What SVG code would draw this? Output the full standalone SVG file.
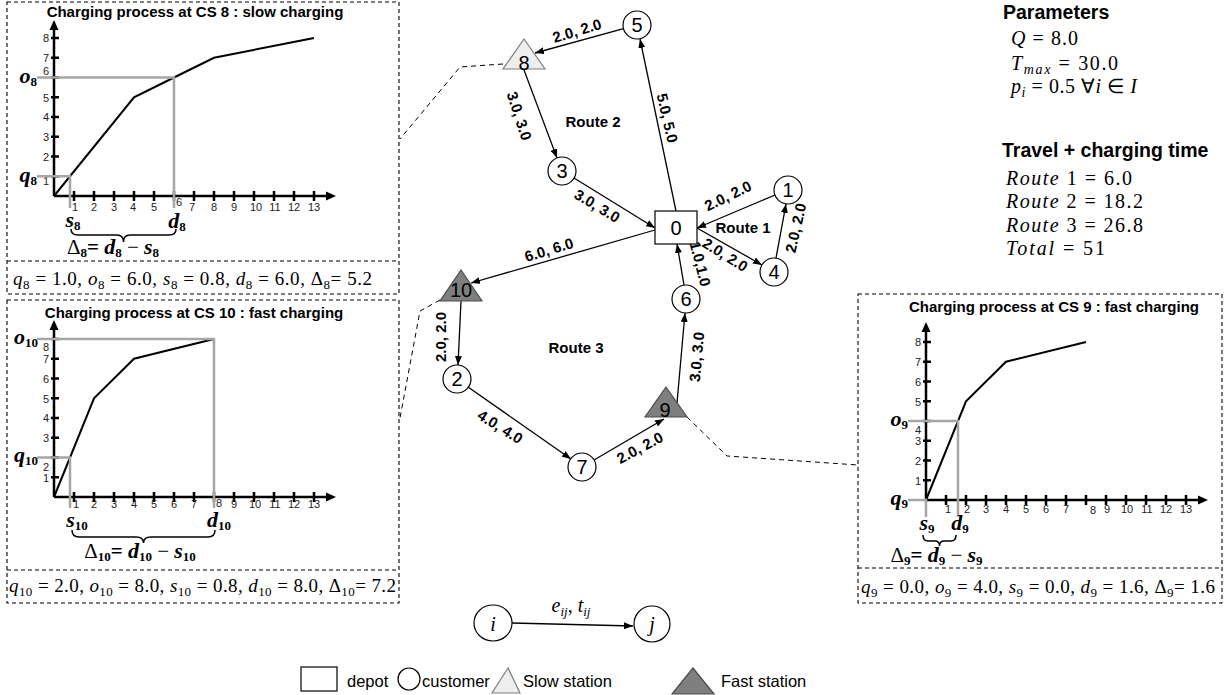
<svg xmlns="http://www.w3.org/2000/svg" width="1230" height="695" viewBox="0 0 1230 695">
<defs>
<marker id="arr" markerWidth="9" markerHeight="7" refX="9" refY="3.5" orient="auto" markerUnits="userSpaceOnUse"><path d="M0,0 L9,3.5 L0,7 z" fill="#000"/></marker>
</defs>
<style>
.bx{fill:none;stroke:#000;stroke-width:1.1;stroke-dasharray:4,3}
.dl{fill:none;stroke:#000;stroke-width:1;stroke-dasharray:5,4}
.ax{fill:none;stroke:#000;stroke-width:2.5}
.ah{fill:#000}
.gr{fill:none;stroke:#a6a6a6;stroke-width:2.5}
.cv{fill:none;stroke:#000;stroke-width:2}
.br{fill:none;stroke:#000;stroke-width:1.5}
.tl{font-family:"Liberation Sans",Arial,sans-serif;font-size:11px;fill:#222;text-anchor:middle}
.yl{font-family:"Liberation Sans",Arial,sans-serif;font-size:11px;fill:#222;text-anchor:end}
.tt{font-family:"Liberation Sans",Arial,sans-serif;font-size:15px;font-weight:bold;text-anchor:middle}
.mb{font-family:"Liberation Serif","Times New Roman",serif;font-size:22px;font-weight:bold;font-style:italic}
.m{font-family:"Liberation Serif","Times New Roman",serif;font-size:19px}
.mp{font-family:"Liberation Serif","Times New Roman",serif;font-size:20px}
.dm{font-family:"Liberation Serif","Times New Roman",serif;font-size:21px}
.i{font-style:italic}
.u{font-style:normal}
.s{font-size:13px}
.s2{font-size:14px}
.n circle,.n rect{fill:#fff;stroke:#000;stroke-width:1.2}
.nl{font-family:"Liberation Sans",Arial,sans-serif;font-size:20px;text-anchor:middle}
.el{font-family:"Liberation Sans",Arial,sans-serif;font-size:15px;font-weight:bold;text-anchor:middle}
.rt{font-family:"Liberation Sans",Arial,sans-serif;font-size:15px;font-weight:bold;text-anchor:middle}
.e{stroke:#000;stroke-width:1.3;fill:none;marker-end:url(#arr)}
.slow{fill:#eeeeee;stroke:#7f7f7f;stroke-width:1.2}
.fast{fill:#7f7f7f;stroke:#4d4d4d;stroke-width:1.2}
.lg{font-family:"Liberation Sans",Arial,sans-serif;font-size:16.5px}
.hd{font-family:"Liberation Sans",Arial,sans-serif;font-size:19.5px;font-weight:bold}
</style>

<!-- Chart CS 8 -->
<g id="chart-cs8">
<rect class="bx" x="7" y="2" width="392" height="292"/>
<line class="bx" x1="7" y1="261" x2="399" y2="261"/>
<text class="tt" x="195" y="17">Charging process at CS 8 : slow charging</text>
<g transform="translate(54,196)">
<path class="ax" d="M0,0 V-168 M0,0 H274"/>
<polygon class="ah" points="0,-176 -4.5,-166 4.5,-166"/>
<polygon class="ah" points="282,0 272,-4.5 272,4.5"/>
<path class="ax" d="M20,-5V5M40,-5V5M60,-5V5M80,-5V5M100,-5V5M120,-5V5M140,-5V5M160,-5V5M180,-5V5M200,-5V5M220,-5V5M240,-5V5M260,-5V5"/>
<path class="ax" d="M-3,-19.75H5M-3,-39.5H5M-3,-59.25H5M-3,-79H5M-3,-98.75H5M-3,-118.5H5M-3,-138.25H5M-3,-158H5"/>
<text class="tl" x="21" y="15">1</text><text class="tl" x="40" y="15">2</text><text class="tl" x="60" y="15">3</text><text class="tl" x="79" y="15">4</text><text class="tl" x="100" y="15">5</text><text class="tl" x="125" y="10">6</text><text class="tl" x="138" y="15">7</text><text class="tl" x="160" y="15">8</text><text class="tl" x="180" y="15">9</text><text class="tl" x="202" y="15">10</text><text class="tl" x="221" y="15">11</text><text class="tl" x="240" y="15">12</text><text class="tl" x="260" y="15">13</text>
<text class="yl" x="-5" y="-11">1</text><text class="yl" x="-5" y="-35.5">2</text><text class="yl" x="-5" y="-55">3</text><text class="yl" x="-5" y="-75">4</text><text class="yl" x="-5" y="-94.5">5</text><text class="yl" x="-5" y="-121">6</text><text class="yl" x="-5" y="-134">7</text><text class="yl" x="-5" y="-154">8</text>
<path class="cv" d="M0,0 L80,-98.75 L120,-118.5 L160,-138.25 L260,-158"/>
<path class="gr" d="M-17,-118.5 H120 V12 M-17,-19.75 H16 V12"/>
<text class="mb" x="-17" y="-113" text-anchor="end">o<tspan class="u s" dy="3">8</tspan></text>
<text class="mb" x="-17" y="-14" text-anchor="end">q<tspan class="u s" dy="3">8</tspan></text>
<text class="mb" x="19" y="31" text-anchor="middle">s<tspan class="u s" dy="3">8</tspan></text>
<text class="mb" x="123" y="32" text-anchor="middle">d<tspan class="u s" dy="3">8</tspan></text>
<path class="br" d="M17,33 Q17,39 24,39 H63 Q69.5,39 69.5,46 Q69.5,39 76,39 H115 Q122,39 122,33"/>
<text class="dm" x="59" y="58" text-anchor="middle">Δ<tspan class="s" font-weight="bold" dy="3">8</tspan><tspan font-weight="bold" dy="-3">= </tspan><tspan class="mb">d</tspan><tspan class="s" font-weight="bold" dy="3">8</tspan><tspan dy="-3"> − </tspan><tspan class="mb">s</tspan><tspan class="s" font-weight="bold" dy="3">8</tspan></text>
</g>
<text class="m" x="13" y="285" textLength="359" lengthAdjust="spacing"><tspan class="i">q</tspan><tspan class="s" dy="4">8</tspan><tspan dy="-4"> = 1.0, </tspan><tspan class="i">o</tspan><tspan class="s" dy="4">8</tspan><tspan dy="-4"> = 6.0, </tspan><tspan class="i">s</tspan><tspan class="s" dy="4">8</tspan><tspan dy="-4"> = 0.8, </tspan><tspan class="i">d</tspan><tspan class="s" dy="4">8</tspan><tspan dy="-4"> = 6.0, Δ</tspan><tspan class="s" dy="4">8</tspan><tspan dy="-4">= 5.2</tspan></text>
</g>

<!-- Chart CS 10 -->
<g id="chart-cs10">
<rect class="bx" x="7" y="300" width="392" height="303"/>
<line class="bx" x1="7" y1="570" x2="399" y2="570"/>
<text class="tt" x="194" y="318">Charging process at CS 10 : fast charging</text>
<g transform="translate(54,497)">
<path class="ax" d="M0,0 V-168 M0,0 H274"/>
<polygon class="ah" points="0,-177 -4.5,-167 4.5,-167"/>
<polygon class="ah" points="282,0 272,-4.5 272,4.5"/>
<path class="ax" d="M20,-5V5M40,-5V5M60,-5V5M80,-5V5M100,-5V5M120,-5V5M140,-5V5M160,-5V5M180,-5V5M200,-5V5M220,-5V5M240,-5V5M260,-5V5"/>
<path class="ax" d="M-3,-19.75H5M-3,-39.5H5M-3,-59.25H5M-3,-79H5M-3,-98.75H5M-3,-118.5H5M-3,-138.25H5M-3,-158H5"/>
<text class="tl" x="22" y="11">1</text><text class="tl" x="40" y="11">2</text><text class="tl" x="60" y="11">3</text><text class="tl" x="80" y="11">4</text><text class="tl" x="100" y="11">5</text><text class="tl" x="120" y="11">6</text><text class="tl" x="140" y="11">7</text><text class="tl" x="165" y="10">8</text><text class="tl" x="180" y="11">9</text><text class="tl" x="201" y="11">10</text><text class="tl" x="221" y="11">11</text><text class="tl" x="240" y="11">12</text><text class="tl" x="260" y="11">13</text>
<text class="yl" x="-5" y="-15.5">1</text><text class="yl" x="-5" y="-26">2</text><text class="yl" x="-5" y="-55">3</text><text class="yl" x="-5" y="-75">4</text><text class="yl" x="-5" y="-94.5">5</text><text class="yl" x="-5" y="-114.5">6</text><text class="yl" x="-5" y="-134">7</text><text class="yl" x="-5" y="-146">8</text>
<path class="cv" d="M0,0 L40,-98.75 L80,-138.25 L160,-158"/>
<path class="gr" d="M-17,-158 H160 V11 M-17,-39.5 H16 V11"/>
<text class="mb" x="-16" y="-153" text-anchor="end">o<tspan class="u s" dy="3">10</tspan></text>
<text class="mb" x="-16" y="-35" text-anchor="end">q<tspan class="u s" dy="3">10</tspan></text>
<text class="mb" x="23" y="30" text-anchor="middle">s<tspan class="u s" dy="3">10</tspan></text>
<text class="mb" x="165" y="30" text-anchor="middle">d<tspan class="u s" dy="3">10</tspan></text>
<path class="br" d="M18,33 Q18,40 25,40 H82 Q89.5,40 89.5,46 Q89.5,40 97,40 H154 Q161,40 161,33"/>
<text class="dm" x="86" y="61" text-anchor="middle">Δ<tspan class="s" font-weight="bold" dy="3">10</tspan><tspan font-weight="bold" dy="-3">= </tspan><tspan class="mb">d</tspan><tspan class="s" font-weight="bold" dy="3">10</tspan><tspan dy="-3"> − </tspan><tspan class="mb">s</tspan><tspan class="s" font-weight="bold" dy="3">10</tspan></text>
</g>
<text class="m" x="9" y="592" textLength="387" lengthAdjust="spacing"><tspan class="i">q</tspan><tspan class="s" dy="4">10</tspan><tspan dy="-4"> = 2.0, </tspan><tspan class="i">o</tspan><tspan class="s" dy="4">10</tspan><tspan dy="-4"> = 8.0, </tspan><tspan class="i">s</tspan><tspan class="s" dy="4">10</tspan><tspan dy="-4"> = 0.8, </tspan><tspan class="i">d</tspan><tspan class="s" dy="4">10</tspan><tspan dy="-4"> = 8.0, Δ</tspan><tspan class="s" dy="4">10</tspan><tspan dy="-4">= 7.2</tspan></text>
</g>

<!-- Chart CS 9 -->
<g id="chart-cs9">
<rect class="bx" x="858" y="294" width="364" height="309"/>
<line class="bx" x1="858" y1="568" x2="1222" y2="568"/>
<text class="tt" x="1054" y="312">Charging process at CS 9 : fast charging</text>
<g transform="translate(926,500)">
<path class="ax" d="M0,0 V-170 M0,0 H274"/>
<polygon class="ah" points="0,-178 -4.5,-168 4.5,-168"/>
<polygon class="ah" points="282,0 272,-4.5 272,4.5"/>
<path class="ax" d="M20,-5V5M40,-5V5M60,-5V5M80,-5V5M100,-5V5M120,-5V5M140,-5V5M160,-5V5M180,-5V5M200,-5V5M220,-5V5M240,-5V5M260,-5V5"/>
<path class="ax" d="M-3,-19.75H5M-3,-39.5H5M-3,-59.25H5M-3,-79H5M-3,-98.75H5M-3,-118.5H5M-3,-138.25H5M-3,-158H5"/>
<text class="tl" x="22" y="13">1</text><text class="tl" x="41" y="13">2</text><text class="tl" x="60" y="13">3</text><text class="tl" x="80" y="13">4</text><text class="tl" x="100" y="13">5</text><text class="tl" x="120" y="13">6</text><text class="tl" x="140" y="13">7</text><text class="tl" x="167" y="14">8</text><text class="tl" x="181" y="13">9</text><text class="tl" x="201" y="13">10</text><text class="tl" x="221" y="13">11</text><text class="tl" x="240" y="13">12</text><text class="tl" x="260" y="13">13</text>
<text class="yl" x="-5" y="-15.5">1</text><text class="yl" x="-5" y="-35.5">2</text><text class="yl" x="-5" y="-55">3</text><text class="yl" x="-5" y="-66">4</text><text class="yl" x="-5" y="-94.5">5</text><text class="yl" x="-5" y="-114.5">6</text><text class="yl" x="-5" y="-134">7</text><text class="yl" x="-5" y="-154">8</text>
<path class="cv" d="M0,0 L40,-98.75 L80,-138.25 L160,-158"/>
<path class="gr" d="M-18,-79 H32 V17 M-18,0 H0 V17"/>
<text class="mb" x="-18" y="-74" text-anchor="end">o<tspan class="u s" dy="3">9</tspan></text>
<text class="mb" x="-18" y="5" text-anchor="end">q<tspan class="u s" dy="3">9</tspan></text>
<text class="mb" x="1" y="30" text-anchor="middle">s<tspan class="u s" dy="3">9</tspan></text>
<text class="mb" x="34" y="30" text-anchor="middle">d<tspan class="u s" dy="3">9</tspan></text>
<path class="br" d="M-3,35 Q-3,41 2,41 H9 Q13.5,41 13.5,46 Q13.5,41 18,41 H25 Q30,41 30,35"/>
<text class="dm" x="10.5" y="62" text-anchor="middle">Δ<tspan class="s" font-weight="bold" dy="3">9</tspan><tspan font-weight="bold" dy="-3">= </tspan><tspan class="mb">d</tspan><tspan class="s" font-weight="bold" dy="3">9</tspan><tspan dy="-3"> − </tspan><tspan class="mb">s</tspan><tspan class="s" font-weight="bold" dy="3">9</tspan></text>
</g>
<text class="m" x="861" y="593" textLength="354" lengthAdjust="spacing"><tspan class="i">q</tspan><tspan class="s" dy="4">9</tspan><tspan dy="-4"> = 0.0, </tspan><tspan class="i">o</tspan><tspan class="s" dy="4">9</tspan><tspan dy="-4"> = 4.0, </tspan><tspan class="i">s</tspan><tspan class="s" dy="4">9</tspan><tspan dy="-4"> = 0.0, </tspan><tspan class="i">d</tspan><tspan class="s" dy="4">9</tspan><tspan dy="-4"> = 1.6, Δ</tspan><tspan class="s" dy="4">9</tspan><tspan dy="-4">= 1.6</tspan></text>
</g>

<!-- dashed links from stations to charts -->
<g id="callouts">
<polyline class="dl" points="503,64 460,67 400,139"/>
<polyline class="dl" points="440,300 420,311 400,418"/>
<polyline class="dl" points="687,417 727,456 858,465"/>
</g>

<!-- connectors -->
<g id="edges">
<line class="e" x1="676" y1="211" x2="640" y2="39"/>
<line class="e" x1="623.5" y1="28.6" x2="535" y2="53"/>
<line class="e" x1="524" y1="70" x2="557" y2="158"/>
<line class="e" x1="574" y1="178" x2="655" y2="228"/>
<line class="e" x1="775" y1="195" x2="697" y2="228"/>
<line class="e" x1="697" y1="228" x2="762" y2="265"/>
<line class="e" x1="776" y1="258" x2="786" y2="204"/>
<line class="e" x1="684" y1="285" x2="677" y2="244"/>
<line class="e" x1="655" y1="230" x2="471" y2="283"/>
<line class="e" x1="461" y1="301" x2="458" y2="365"/>
<line class="e" x1="468" y1="387" x2="571" y2="459"/>
<line class="e" x1="594" y1="460" x2="664" y2="419"/>
<line class="e" x1="677" y1="403" x2="685" y2="313"/>
<text class="el" transform="translate(667,118) rotate(77)" dy="5">5.0, 5.0</text>
<text class="el" transform="translate(577,31) rotate(-17)" dy="5">2.0, 2.0</text>
<text class="el" transform="translate(519,116) rotate(72)" dy="5">3.0, 3.0</text>
<text class="el" transform="translate(597,206) rotate(31)" dy="5">3.0, 3.0</text>
<text class="el" transform="translate(728,196) rotate(-26)" dy="5">2.0, 2.0</text>
<text class="el" transform="translate(725,255) rotate(32)" dy="5">2.0, 2.0</text>
<text class="el" transform="translate(796,228) rotate(-77)" dy="5">2.0, 2.0</text>
<text class="el" transform="translate(700,264) rotate(76)" dy="5">1.0,1.0</text>
<text class="el" transform="translate(549,250) rotate(-17)" dy="5">6.0, 6.0</text>
<text class="el" transform="translate(441,337) rotate(-90)" dy="5">2.0, 2.0</text>
<text class="el" transform="translate(500,427) rotate(32)" dy="5">4.0, 4.0</text>
<text class="el" transform="translate(640,448) rotate(-28)" dy="5">2.0, 2.0</text>
<text class="el" transform="translate(697,357) rotate(-85)" dy="5">3.0, 3.0</text>
</g>

<!-- route labels -->
<text class="rt" x="593" y="127">Route 2</text>
<text class="rt" x="743" y="233">Route 1</text>
<text class="rt" x="576" y="353">Route 3</text>

<!-- nodes -->
<g id="node-0" class="n"><rect x="655" y="211" width="42" height="33"/><text class="nl" x="676" y="235">0</text></g>
<g id="node-1" class="n"><circle cx="788" cy="190" r="14"/><text class="nl" x="788" y="197">1</text></g>
<g id="node-2" class="n"><circle cx="457" cy="379" r="14"/><text class="nl" x="457" y="386">2</text></g>
<g id="node-3" class="n"><circle cx="562" cy="171" r="14"/><text class="nl" x="562" y="178">3</text></g>
<g id="node-4" class="n"><circle cx="774" cy="272" r="14"/><text class="nl" x="774" y="279">4</text></g>
<g id="node-5" class="n"><circle cx="637" cy="25" r="14"/><text class="nl" x="637" y="32">5</text></g>
<g id="node-6" class="n"><circle cx="686" cy="299" r="14"/><text class="nl" x="686" y="306">6</text></g>
<g id="node-7" class="n"><circle cx="582" cy="467" r="14"/><text class="nl" x="582" y="474">7</text></g>
<g id="node-8"><polygon class="slow" points="524,39 503,69 545,69"/><text class="nl" x="524" y="70">8</text></g>
<g id="node-9"><polygon class="fast" points="666,387 645,417 687,417"/><text class="nl" x="665" y="417">9</text></g>
<g id="node-10"><polygon class="fast" points="461,270 440,301 482,301"/><text class="nl" x="461" y="297">10</text></g>

<!-- parameters -->
<g id="parameters">
<text class="hd" x="1003" y="19">Parameters</text>
<text class="mp" x="1011" y="45" textLength="67" lengthAdjust="spacing"><tspan class="i">Q</tspan> = 8.0</text>
<text class="mp" x="1011" y="70" textLength="107" lengthAdjust="spacing"><tspan class="i">T</tspan><tspan class="i s2" dy="4">max</tspan><tspan dy="-4"> = 30.0</tspan></text>
<text class="mp" x="1011" y="93" textLength="126" lengthAdjust="spacing"><tspan class="i">p</tspan><tspan class="i s2" dy="4">i</tspan><tspan dy="-4"> = 0.5 ∀</tspan><tspan class="i">i</tspan><tspan> ∈ </tspan><tspan class="i">I</tspan></text>
<text class="hd" x="1002" y="157">Travel + charging time</text>
<text class="mp" x="1006" y="185" textLength="126" lengthAdjust="spacing"><tspan class="i">Route</tspan> 1 = 6.0</text>
<text class="mp" x="1006" y="208" textLength="137" lengthAdjust="spacing"><tspan class="i">Route</tspan> 2 = 18.2</text>
<text class="mp" x="1006" y="232" textLength="137" lengthAdjust="spacing"><tspan class="i">Route</tspan> 3 = 26.8</text>
<text class="mp" x="1006" y="255" textLength="99" lengthAdjust="spacing"><tspan class="i">Total</tspan> = 51</text>
</g>

<!-- legend -->
<g id="legend">
<g id="legend-i" class="n"><ellipse cx="493" cy="623" rx="19" ry="18" fill="#fff" stroke="#000" stroke-width="1.2"/><text class="mp i" x="493" y="631" text-anchor="middle" font-size="23">i</text></g>
<g id="legend-j" class="n"><ellipse cx="652" cy="624" rx="18" ry="18" fill="#fff" stroke="#000" stroke-width="1.2"/><text class="mp i" x="652" y="631" text-anchor="middle" font-size="23">j</text></g>
<line class="e" x1="512" y1="623" x2="633" y2="626"/>
<text class="mp" x="571" y="612" text-anchor="middle"><tspan class="i">e</tspan><tspan class="i s" dy="4">ij</tspan><tspan dy="-4">, </tspan><tspan class="i">t</tspan><tspan class="i s" dy="4">ij</tspan></text>
<rect x="301" y="667" width="36" height="24" fill="#fff" stroke="#000" stroke-width="1.2"/>
<text class="lg" x="347" y="687">depot</text>
<circle cx="409" cy="679" r="11" fill="#fff" stroke="#000" stroke-width="1.2"/>
<text class="lg" x="422" y="687">customer</text>
<polygon class="slow" points="508,668 492,693 520,693"/>
<text class="lg" x="523" y="687">Slow station</text>
<polygon class="fast" points="693,668 672,694 714,694"/>
<text class="lg" x="721" y="687">Fast station</text>
</g>
</svg>
